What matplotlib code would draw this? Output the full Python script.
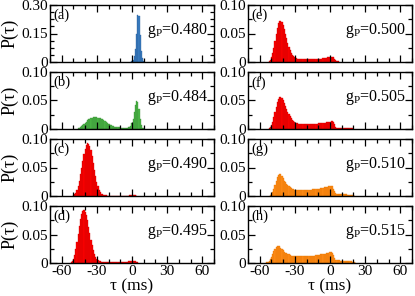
import matplotlib
matplotlib.use("Agg")
import matplotlib.pyplot as plt
from matplotlib.ticker import MultipleLocator, FixedLocator, FixedFormatter

plt.rcParams.update({"font.family": "Liberation Serif", "font.size": 10,
                     "mathtext.fontset": "custom", "mathtext.rm": "Liberation Serif",
                     "mathtext.it": "Liberation Serif:italic",
                     "axes.unicode_minus": False})

# histogram values, 1 ms bins, first bin centre given by *_start
a_start = 0
p_a = [0.004, 0.01, 0.03, 0.07, 0.15, 0.25, 0.24, 0.14, 0.06, 0.02, 0.005]

b_start = -46
p_b = [0.001, 0.002, 0.003, 0.005, 0.007, 0.009, 0.011, 0.013, 0.015, 0.017,
       0.018, 0.019, 0.020, 0.021, 0.021, 0.021, 0.021, 0.020, 0.020, 0.019,
       0.018, 0.017, 0.016, 0.014, 0.012, 0.011, 0.009, 0.008, 0.007, 0.006,
       0.005, 0.004, 0.004, 0.003, 0.003, 0.003, 0.002, 0.002, 0.002, 0.002,
       0.002, 0.002, 0.002, 0.003, 0.004, 0.006, 0.010, 0.018, 0.030, 0.042,
       0.049, 0.047, 0.035, 0.018, 0.007, 0.002, 0.001]

c_start = -50
p_c = [0.001, 0.003, 0.006, 0.011, 0.018, 0.027, 0.038, 0.050, 0.062, 0.074,
       0.083, 0.090, 0.093, 0.092, 0.088, 0.080, 0.070, 0.058, 0.046, 0.035,
       0.025, 0.017, 0.011, 0.007, 0.004, 0.003, 0.002, 0.001, 0.001, 0.0005,
       0.0005, 0.0005, 0.0005, 0.0005, 0.0005, 0.0005, 0.0005, 0.0005, 0.0005,
       0.0005, 0.0005, 0.0005, 0.0005, 0.0005, 0.0005, 0.0005, 0.0005, 0.0005,
       0.001, 0.001, 0.001, 0.001, 0.001, 0.001, 0.0005]

d_start = -52
p_d = [0.001, 0.003, 0.007, 0.014, 0.024, 0.037, 0.051, 0.065, 0.077, 0.086,
       0.091, 0.093, 0.090, 0.084, 0.075, 0.064, 0.052, 0.041, 0.031, 0.022,
       0.015, 0.010, 0.007, 0.005, 0.004, 0.003, 0.002, 0.002, 0.002, 0.001,
       0.001, 0.001, 0.001, 0.001, 0.001, 0.001, 0.001, 0.001, 0.001, 0.001,
       0.001, 0.001, 0.001, 0.001, 0.001, 0.001, 0.001, 0.001, 0.002, 0.003,
       0.003, 0.004, 0.004, 0.004, 0.004, 0.003, 0.002, 0.001]

e_start = -52
p_e = [0.001, 0.003, 0.008, 0.015, 0.025, 0.037, 0.049, 0.060, 0.068, 0.072,
       0.072, 0.070, 0.065, 0.058, 0.050, 0.042, 0.034, 0.027, 0.021, 0.016,
       0.012, 0.010, 0.008, 0.007, 0.006, 0.006, 0.005, 0.005, 0.005, 0.005,
       0.005, 0.005, 0.005, 0.005, 0.005, 0.005, 0.005, 0.005, 0.005, 0.005,
       0.006, 0.006, 0.006, 0.006, 0.006, 0.006, 0.007, 0.007, 0.007, 0.007,
       0.008, 0.008, 0.009, 0.009, 0.009, 0.008, 0.006, 0.003, 0.001, 0.001]

f_start = -52
p_f = [0.001, 0.003, 0.007, 0.013, 0.021, 0.030, 0.039, 0.047, 0.053, 0.056,
       0.056, 0.054, 0.050, 0.045, 0.040, 0.035, 0.030, 0.026, 0.022, 0.019,
       0.016, 0.014, 0.012, 0.011, 0.010, 0.009, 0.009, 0.009, 0.008, 0.008,
       0.008, 0.008, 0.008, 0.008, 0.008, 0.008, 0.008, 0.009, 0.009, 0.009,
       0.009, 0.009, 0.010, 0.010, 0.010, 0.010, 0.011, 0.011, 0.011, 0.012,
       0.012, 0.013, 0.013, 0.014, 0.014, 0.012, 0.008, 0.004, 0.002, 0.002,
       0.002, 0.002, 0.002, 0.002, 0.001, 0.001, 0.001, 0.001, 0.001, 0.001,
       0.001, 0.001, 0.0005]

g_start = -51
p_g = [0.001, 0.003, 0.007, 0.013, 0.020, 0.027, 0.033, 0.037, 0.039, 0.038,
       0.035, 0.031, 0.027, 0.024, 0.021, 0.019, 0.017, 0.015, 0.014, 0.013,
       0.012, 0.011, 0.011, 0.010, 0.010, 0.010, 0.010, 0.010, 0.010, 0.010,
       0.010, 0.010, 0.011, 0.011, 0.011, 0.011, 0.012, 0.012, 0.012, 0.012,
       0.013, 0.013, 0.013, 0.014, 0.014, 0.014, 0.015, 0.015, 0.016, 0.016,
       0.017, 0.018, 0.018, 0.017, 0.013, 0.008, 0.005, 0.004, 0.004, 0.003,
       0.003, 0.003, 0.003, 0.003, 0.003, 0.003, 0.002, 0.002, 0.002, 0.002,
       0.001, 0.001, 0.0005]

h_start = -54
p_h = [0.001, 0.002, 0.004, 0.007, 0.011, 0.016, 0.021, 0.025, 0.028, 0.030,
       0.030, 0.029, 0.027, 0.024, 0.022, 0.020, 0.018, 0.017, 0.016, 0.015,
       0.014, 0.013, 0.013, 0.012, 0.012, 0.012, 0.012, 0.012, 0.012, 0.012,
       0.012, 0.012, 0.012, 0.012, 0.012, 0.012, 0.012, 0.013, 0.013, 0.013,
       0.013, 0.013, 0.014, 0.014, 0.014, 0.014, 0.015, 0.015, 0.015, 0.016,
       0.016, 0.017, 0.017, 0.018, 0.019, 0.019, 0.018, 0.014, 0.009, 0.006,
       0.005, 0.005, 0.005, 0.004, 0.004, 0.004, 0.004, 0.004, 0.004, 0.003,
       0.003, 0.003, 0.003, 0.002, 0.002, 0.001, 0.0005]

panel_tags = ["(a)", "(b)", "(c)", "(d)", "(e)", "(f)", "(g)", "(h)"]
gp_values = ["0.480", "0.484", "0.490", "0.495", "0.500", "0.505", "0.510", "0.515"]
starts = [a_start, b_start, c_start, d_start, e_start, f_start, g_start, h_start]
hists = [p_a, p_b, p_c, p_d, p_e, p_f, p_g, p_h]

colors = ["#3a7fc4", "#4db848", "#ff0000", "#ff0000",
          "#ff0000", "#ff0000", "#ff8c1a", "#ff8c1a"]
edges = ["#2a5f9a", "#3a9036", "#d00000", "#d00000",
         "#d00000", "#d00000", "#e87800", "#e87800"]

W, H = 415, 296
fig = plt.figure(figsize=(W / 100, H / 100), dpi=100)

for k in range(8):
    col = k // 4
    row = k % 4
    left = 50 if col == 0 else 248
    top = 5 + 67 * row
    ax = fig.add_axes([left / W, 1 - (top + 57) / H, 164 / W, 57 / H])

    taus = [starts[k] + i for i in range(len(hists[k]))]
    ax.bar(taus, hists[k], width=1.0, color=colors[k], edgecolor=edges[k],
           linewidth=0.25)

    ax.set_xlim(-70, 70)
    ax.xaxis.set_major_locator(MultipleLocator(30))
    ax.xaxis.set_minor_locator(MultipleLocator(10))
    if k == 0:
        ax.set_ylim(0, 0.30)
        ax.yaxis.set_major_locator(FixedLocator([0, 0.15, 0.30]))
        ax.yaxis.set_major_formatter(FixedFormatter(["0", "0.15", "0.30"]))
        ax.yaxis.set_minor_locator(MultipleLocator(0.0375))
    else:
        ax.set_ylim(0, 0.10)
        ax.yaxis.set_major_locator(FixedLocator([0, 0.05, 0.10]))
        ax.yaxis.set_major_formatter(FixedFormatter(["0", "0.05", "0.10"]))
        ax.yaxis.set_minor_locator(MultipleLocator(0.025))

    ax.tick_params(which="both", direction="in", top=True, right=True,
                   labelsize=11, pad=1.5, width=0.9)
    ax.tick_params(which="major", length=5)
    ax.tick_params(which="minor", length=3)
    for s in ax.spines.values():
        s.set_linewidth(1.0)

    if row < 3:
        ax.tick_params(labelbottom=False)
    else:
        ax.set_xlabel("τ (ms)", fontsize=12.5)
        ax.xaxis.set_label_coords(0.5, -0.27)
    if col == 0:
        ax.set_ylabel("P(τ)", fontsize=13)
        ax.yaxis.set_label_coords(-0.195, 0.5)

    ax.text(0.02, 0.93, panel_tags[k], transform=ax.transAxes,
            ha="left", va="top", fontsize=10.5)
    ax.text(0.965, 0.55, "g$_\\mathrm{P}$=" + gp_values[k], transform=ax.transAxes,
            ha="right", va="center", fontsize=11.5)

fig.savefig("out.png", dpi=100)
